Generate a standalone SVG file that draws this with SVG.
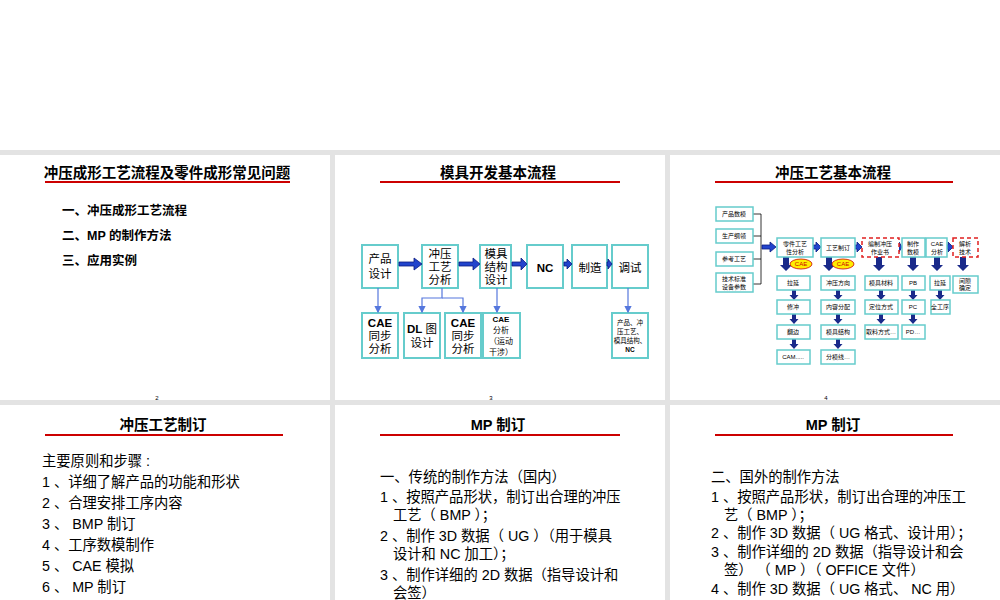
<svg xmlns="http://www.w3.org/2000/svg" width="1000" height="600" viewBox="0 0 1000 600">
<style>
text{font-family:"Liberation Sans","Noto Sans CJK SC",sans-serif;fill:#000}
.t{font-size:14.5px;font-weight:bold;text-anchor:middle}
.b{fill:#fff;stroke:#66cccc;stroke-width:2}
.bs{fill:#fff;stroke:#66cccc;stroke-width:1.5}
.d{fill:#fff;stroke:#e02020;stroke-width:1.5;stroke-dasharray:4,3}
.m{font-size:11.5px;text-anchor:middle}
.s{font-size:6px;text-anchor:middle}
.l{font-size:14.3px}
.ln{stroke:#5577dd;stroke-width:1.2;fill:none}
.ar{fill:#2244cc;stroke:#0a1a80;stroke-width:0.8}
.dn{fill:#1a2a8a}
</style>
<defs>
<marker id="a" markerWidth="6" markerHeight="6" refX="5" refY="3" orient="auto"><path d="M0,0L6,3L0,6z" fill="#5577dd"/></marker>
<path id="down" d="M-3,0h6v8h3l-6,6l-6,-6h3z" class="dn"/>
<path id="dn2" d="M-2,0h4v5h2.5l-4.5,5l-4.5,-5h2.5z" class="dn"/>
</defs>
<rect width="1000" height="600" fill="#fff"/>
<rect y="150" width="1000" height="450" fill="#e3e3e3"/>
<rect x="0" y="155" width="330" height="245" fill="#fff"/>
<rect x="335" y="155" width="330" height="245" fill="#fff"/>
<rect x="670" y="155" width="330" height="245" fill="#fff"/>
<rect x="0" y="405" width="330" height="195" fill="#fff"/>
<rect x="335" y="405" width="330" height="195" fill="#fff"/>
<rect x="670" y="405" width="330" height="195" fill="#fff"/>
<g id="panel1">
<text class="t" x="167" y="178">冲压成形工艺流程及零件成形常见问题</text>
<rect x="45" y="181" width="245" height="2" fill="#c00"/>
<text x="62" y="215" font-size="12.5" font-weight="bold">一、冲压成形工艺流程</text>
<text x="62" y="240" font-size="12.5" font-weight="bold">二、MP 的制作方法</text>
<text x="62" y="265" font-size="12.5" font-weight="bold">三、应用实例</text>
<text x="157" y="400" font-size="6" text-anchor="middle">2</text>
</g>
<g id="panel2">
<text class="t" x="498" y="178">模具开发基本流程</text>
<rect x="380" y="181" width="240" height="2" fill="#c00"/>
<g id="p2nodes">
<rect class="b" x="362" y="245" width="36" height="43"/><text class="m" x="380" y="263">产品</text><text class="m" x="380" y="278">设计</text>
<rect class="b" x="422" y="245" width="36" height="43"/><text class="m" x="440" y="258">冲压</text><text class="m" x="440" y="271">工艺</text><text class="m" x="440" y="284">分析</text>
<rect class="b" x="480" y="245" width="31" height="43"/><text class="m" x="496" y="258">模具</text><text class="m" x="496" y="271">结构</text><text class="m" x="496" y="284">设计</text>
<rect class="b" x="527" y="245" width="36" height="43"/><text class="m" x="545" y="272" font-weight="bold">NC</text>
<rect class="b" x="572" y="245" width="35" height="43"/><text class="m" x="590" y="272">制造</text>
<rect class="b" x="612" y="245" width="36" height="43"/><text class="m" x="630" y="272">调试</text>
<rect class="b" x="362" y="313" width="36" height="45"/><text class="m" x="380" y="327" font-weight="bold">CAE</text><text class="m" x="380" y="340">同步</text><text class="m" x="380" y="353">分析</text>
<rect class="b" x="404" y="313" width="36" height="45"/><text class="m" x="422" y="333"><tspan font-weight="bold">DL</tspan> 图</text><text class="m" x="422" y="347">设计</text>
<rect class="b" x="445" y="313" width="36" height="45"/><text class="m" x="463" y="327" font-weight="bold">CAE</text><text class="m" x="463" y="340">同步</text><text class="m" x="463" y="353">分析</text>
<rect class="b" x="483" y="313" width="37" height="45"/><text x="501" y="322" font-size="8" text-anchor="middle" font-weight="bold">CAE</text><text x="501" y="333" font-size="8" text-anchor="middle">分析</text><text x="501" y="344" font-size="8" text-anchor="middle">（运动</text><text x="501" y="355" font-size="8" text-anchor="middle">干涉）</text>
<rect class="b" x="612" y="313" width="36" height="45"/><text x="630" y="325" font-size="6.5" text-anchor="middle">产品、冲</text><text x="630" y="334" font-size="6.5" text-anchor="middle">压工艺、</text><text x="630" y="343" font-size="6.5" text-anchor="middle">模具结构、</text><text x="630" y="352" font-size="6.5" text-anchor="middle" font-weight="bold">NC</text>
</g>
<g id="p2conn">
<path class="ar" d="M399,262h15v-4l8,6l-8,6v-4h-15z"/>
<path class="ar" d="M459,262h14v-4l7,6l-7,6v-4h-14z"/>
<path class="ar" d="M512,262h9v-4l6,6l-6,6v-4h-9z"/>
<path class="ar" d="M564,262h3v-3l5,5l-5,5v-3h-3z"/>
<path class="ar" d="M607,262h1v-3l4,5l-4,5v-3h-1z"/>
<path class="ln" marker-end="url(#a)" d="M378,288V312"/>
<path class="ln" marker-end="url(#a)" d="M442,288v10h-20V312"/>
<path class="ln" marker-end="url(#a)" d="M442,298h21V312"/>
<path class="ln" marker-end="url(#a)" d="M497,288V312"/>
<path class="ln" marker-end="url(#a)" d="M628,288V312"/>
</g>
<text x="491" y="400" font-size="6" text-anchor="middle">3</text>
</g>
<g id="panel3">
<text class="t" x="833" y="178">冲压工艺基本流程</text>
<rect x="715" y="181" width="238" height="2" fill="#c00"/>
<g id="p3conn">
<path stroke="#000" stroke-width="0.8" fill="none" d="M753,214h8v70h-8M753,236h8M753,259h8"/>
<path class="ar" d="M762,245h8v-3l6,5l-6,5v-3h-8z"/>
<path class="ar" d="M813,245h3v-3l5,5l-5,5v-3h-3z"/>
<path class="ar" d="M855,245h2v-3l5,5l-5,5v-3h-2z"/>
<path class="ar" d="M899,245h0v-3l3,5l-3,5v-3z"/>
<path class="ar" d="M947,245h1v-3l5,5l-5,5v-3h-1z"/>
<use href="#down" x="786" y="257"/><use href="#down" x="829" y="257"/><use href="#down" x="879" y="257"/><use href="#down" x="913" y="257"/><use href="#down" x="937" y="257"/><use href="#down" x="963" y="257"/>
<use href="#dn2" x="794" y="290"/><use href="#dn2" x="794" y="314"/><use href="#dn2" x="794" y="339"/>
<use href="#dn2" x="838" y="290"/><use href="#dn2" x="838" y="314"/><use href="#dn2" x="838" y="339"/>
<use href="#dn2" x="881" y="290"/><use href="#dn2" x="881" y="314"/>
<use href="#dn2" x="913" y="290"/><use href="#dn2" x="913" y="314"/>
<use href="#dn2" x="940" y="290"/>
</g>
<g id="p3nodes">
<rect class="bs" x="716" y="207" width="37" height="14"/><text class="s" x="734" y="216">产品数模</text>
<rect class="bs" x="716" y="229" width="37" height="14"/><text class="s" x="734" y="238">生产纲领</text>
<rect class="bs" x="716" y="252" width="37" height="14"/><text class="s" x="734" y="261">参考工艺</text>
<rect class="bs" x="716" y="273" width="37" height="19"/><text class="s" x="734" y="281">技术标准</text><text class="s" x="734" y="289">设备参数</text>
<rect class="bs" x="777" y="238" width="36" height="19"/><text class="s" x="795" y="246">零件工艺</text><text class="s" x="795" y="254">性分析</text>
<rect class="bs" x="821" y="238" width="34" height="19"/><text class="s" x="838" y="250">工艺制订</text>
<rect class="d" x="862" y="238" width="37" height="19"/><text class="s" x="880" y="246">编制冲压</text><text class="s" x="880" y="254">作业书</text>
<rect class="bs" x="902" y="238" width="23" height="19"/><text class="s" x="913" y="246">制作</text><text class="s" x="913" y="254">数模</text>
<rect class="bs" x="926" y="238" width="21" height="19"/><text class="s" x="937" y="246">CAE</text><text class="s" x="937" y="254">分析</text>
<rect class="d" x="953" y="238" width="25" height="19"/><text class="s" x="965" y="246">解析</text><text class="s" x="965" y="254">技术</text>
<ellipse cx="801" cy="264" rx="11" ry="5" fill="#ffee00" stroke="#c00" stroke-width="0.8"/><text class="s" x="801" y="266" style="fill:#c00">CAE</text>
<ellipse cx="843" cy="264" rx="11" ry="5" fill="#ffee00" stroke="#c00" stroke-width="0.8"/><text class="s" x="843" y="266" style="fill:#c00">CAE</text>
<rect class="bs" x="777" y="276" width="33" height="14"/><text class="s" x="793" y="285">拉延</text>
<rect class="bs" x="777" y="300" width="33" height="14"/><text class="s" x="793" y="309">修冲</text>
<rect class="bs" x="777" y="325" width="33" height="14"/><text class="s" x="793" y="334">翻边</text>
<rect class="bs" x="777" y="350" width="33" height="14"/><text class="s" x="793" y="359">CAM.....</text>
<rect class="bs" x="821" y="276" width="34" height="14"/><text class="s" x="838" y="285">冲压方向</text>
<rect class="bs" x="821" y="300" width="34" height="14"/><text class="s" x="838" y="309">内容分配</text>
<rect class="bs" x="821" y="325" width="34" height="14"/><text class="s" x="838" y="334">模具结构</text>
<rect class="bs" x="821" y="350" width="34" height="14"/><text class="s" x="838" y="359">分模线…</text>
<rect class="bs" x="865" y="276" width="33" height="14"/><text class="s" x="881" y="285">模具材料</text>
<rect class="bs" x="865" y="300" width="33" height="14"/><text class="s" x="881" y="309">定位方式</text>
<rect class="bs" x="865" y="325" width="33" height="14"/><text class="s" x="881" y="334">取料方式…</text>
<rect class="bs" x="902" y="276" width="23" height="14"/><text class="s" x="913" y="285">PB</text>
<rect class="bs" x="902" y="300" width="23" height="14"/><text class="s" x="913" y="309">PC</text>
<rect class="bs" x="902" y="325" width="23" height="14"/><text class="s" x="913" y="334">PD…</text>
<rect class="bs" x="930" y="276" width="20" height="14"/><text class="s" x="940" y="285">拉延</text>
<rect class="bs" x="931" y="300" width="19" height="14"/><text class="s" x="940" y="309">全工序</text>
<rect class="bs" x="953" y="276" width="25" height="17"/><text class="s" x="965" y="283">间隙</text><text class="s" x="965" y="290">确定</text>
</g>
<text x="826" y="400" font-size="6" text-anchor="middle">4</text>
</g>
<g id="panel4">
<text class="t" x="163" y="430">冲压工艺制订</text>
<rect x="45" y="434" width="238" height="2" fill="#c00"/>
<text class="l" x="42" y="466">主要原则和步骤 :</text>
<text class="l" x="42" y="487">1 、详细了解产品的功能和形状</text>
<text class="l" x="42" y="508">2 、合理安排工序内容</text>
<text class="l" x="42" y="529">3 、 BMP 制订</text>
<text class="l" x="42" y="550">4 、工序数模制作</text>
<text class="l" x="42" y="571">5 、 CAE 模拟</text>
<text class="l" x="42" y="592">6 、 MP 制订</text>
</g>
<g id="panel5">
<text class="t" x="498" y="430">MP 制订</text>
<rect x="380" y="434" width="240" height="2" fill="#c00"/>
<text class="l" x="380" y="482">一、传统的制作方法（国内）</text>
<text class="l" x="380" y="502">1 、按照产品形状，制订出合理的冲压</text>
<text class="l" x="393" y="520">工艺（ BMP ）；</text>
<text class="l" x="380" y="541">2 、制作 3D 数据（ UG ）（用于模具</text>
<text class="l" x="393" y="559">设计和 NC 加工）；</text>
<text class="l" x="380" y="580">3 、制作详细的 2D 数据（指导设计和</text>
<text class="l" x="393" y="598">会签）</text>
</g>
<g id="panel6">
<text class="t" x="833" y="430">MP 制订</text>
<rect x="715" y="434" width="238" height="2" fill="#c00"/>
<text class="l" x="711" y="482">二、国外的制作方法</text>
<text class="l" x="711" y="502">1 、按照产品形状，制订出合理的冲压工</text>
<text class="l" x="724" y="520">艺（ BMP ）；</text>
<text class="l" x="711" y="538">2 、制作 3D 数据（ UG 格式、设计用）；</text>
<text class="l" x="711" y="557">3 、制作详细的 2D 数据（指导设计和会</text>
<text class="l" x="724" y="575">签）  （ MP ）（ OFFICE 文件）</text>
<text class="l" x="711" y="594">4 、制作 3D 数据（ UG 格式、 NC 用）</text>
</g>
</svg>
